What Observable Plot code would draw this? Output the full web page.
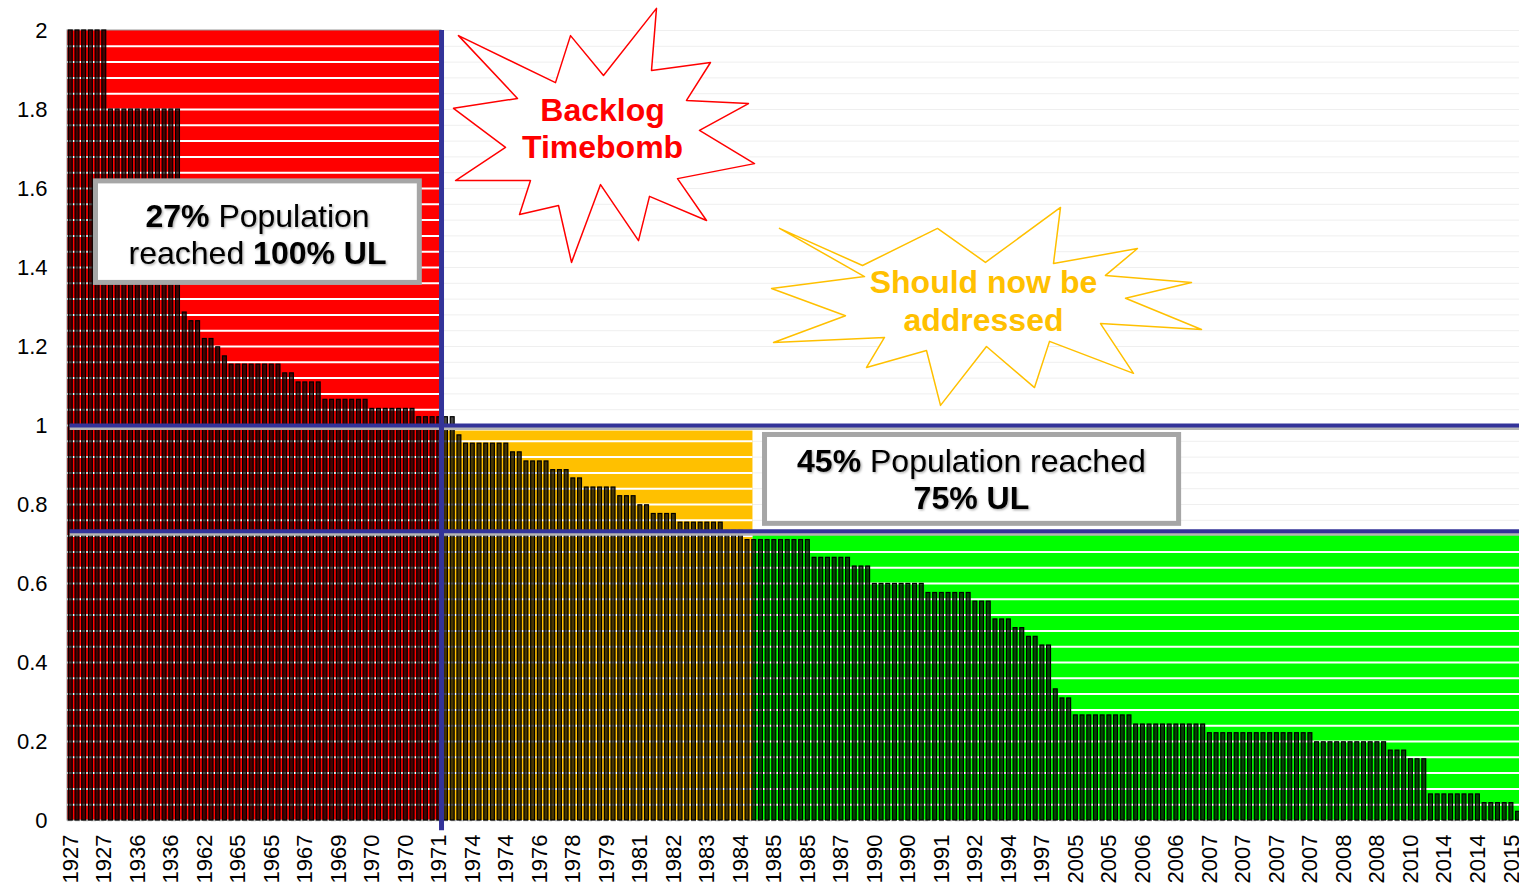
<!DOCTYPE html>
<html>
<head>
<meta charset="utf-8">
<script src="https://cdn.jsdelivr.net/npm/d3@7"></script>
<script src="https://cdn.jsdelivr.net/npm/@observablehq/plot@0.6"></script>
<style>
  html, body { margin: 0; padding: 0; background: #fff; }
  #chart { width: 1519px; height: 888px; overflow: hidden; }
</style>
</head>
<body>
<div id="chart"></div>
<script>
// ---- Data: one value per asset (ratio of age to useful life), sorted by install year ----
const values = [
  2.0, 2.0, 2.0, 2.0, 2.0, 2.0,
  1.8, 1.8, 1.8, 1.8, 1.8, 1.8, 1.8, 1.8, 1.8, 1.8, 1.8,
  1.286,
  1.264, 1.264,
  1.219, 1.219,
  1.198,
  1.175,
  1.154, 1.154, 1.154, 1.154, 1.154, 1.154, 1.154, 1.154,
  1.132, 1.132,
  1.109, 1.109, 1.109, 1.109,
  1.065, 1.065, 1.065, 1.065, 1.065, 1.065, 1.065,
  1.042, 1.042, 1.042, 1.042, 1.042, 1.042, 1.042,
  1.021, 1.021, 1.021, 1.021, 1.021, 1.021,
  0.975,
  0.954, 0.954, 0.954, 0.954, 0.954, 0.954, 0.954,
  0.932, 0.932,
  0.909, 0.909, 0.909, 0.909,
  0.887, 0.887, 0.887,
  0.866, 0.866,
  0.843, 0.843, 0.843, 0.843, 0.843,
  0.821, 0.821, 0.821,
  0.798, 0.798,
  0.776, 0.776, 0.776, 0.776,
  0.754, 0.754, 0.754, 0.754, 0.754, 0.754, 0.754,
  0.733, 0.733, 0.733,
  0.710, 0.710, 0.710, 0.710, 0.710, 0.710, 0.710, 0.710, 0.710, 0.710,
  0.665, 0.665, 0.665, 0.665, 0.665, 0.665,
  0.643, 0.643, 0.643,
  0.599, 0.599, 0.599, 0.599, 0.599, 0.599, 0.599, 0.599,
  0.576, 0.576, 0.576, 0.576, 0.576, 0.576, 0.576,
  0.554, 0.554, 0.554,
  0.509, 0.509, 0.509,
  0.487, 0.487,
  0.465, 0.465,
  0.443, 0.443,
  0.332,
  0.309, 0.309,
  0.266, 0.266, 0.266, 0.266, 0.266, 0.266, 0.266, 0.266, 0.266,
  0.243, 0.243, 0.243, 0.243, 0.243, 0.243, 0.243, 0.243, 0.243, 0.243, 0.243,
  0.221, 0.221, 0.221, 0.221, 0.221, 0.221, 0.221, 0.221, 0.221, 0.221, 0.221, 0.221, 0.221, 0.221, 0.221, 0.221,
  0.198, 0.198, 0.198, 0.198, 0.198, 0.198, 0.198, 0.198, 0.198, 0.198, 0.198,
  0.177, 0.177, 0.177,
  0.155, 0.155, 0.155,
  0.066, 0.066, 0.066, 0.066, 0.066, 0.066, 0.066, 0.066,
  0.044, 0.044, 0.044, 0.044, 0.044,
  0.022
];

// Category labels shown on the axis (every 5th bar)
const tickLabels = [
  "1927", "1927", "1936", "1936", "1962", "1965", "1965", "1967", "1969", "1970",
  "1970", "1971", "1974", "1974", "1976", "1978", "1979", "1981", "1982", "1983",
  "1984", "1985", "1985", "1987", "1990", "1990", "1991", "1992", "1994", "1997",
  "2005", "2005", "2006", "2006", "2007", "2007", "2007", "2007", "2008", "2008",
  "2010", "2014", "2014", "2015"
];
const labelEvery = 5;

// Thresholds
const thresholdFull = 1.0;     // 100% UL
const thresholdPart = 0.732;   // 75% UL line

// Annotation text
const box1Lines = ["**27%** Population", "reached **100% UL**"];
const box2Lines = ["**45%** Population reached", "**75% UL**"];
const star1Lines = ["Backlog", "Timebomb"];
const star2Lines = ["Should now be", "addressed"];

// ---- Annotation geometry (in data units: x = bar index, y = value) ----
const splitRed = 55.82;     // red / amber boundary (vertical blue line)
const splitAmber = 102.3;   // amber / green boundary
const regions = [
  {x1: 0, x2: splitRed, top: 2.0, color: "#ff0000"},
  {x1: splitRed, x2: splitAmber, top: 0.986, color: "#ffc000"},
  {x1: splitAmber, x2: 219, top: 0.722, color: "#00ff00"}
];
const boxes = [
  {x1: 4.25, x2: 52.58, y1: 1.361, y2: 1.618},
  {x1: 104.1, x2: 165.9, y1: 0.751, y2: 0.976}
];
const star1 = [
  [58.35,1.987],[72.83,1.868],[75.07,1.987],[79.99,1.886],[87.90,2.056],[87.16,1.899],
  [95.96,1.919],[92.38,1.823],[101.63,1.815],[94.32,1.747],[102.53,1.663],[91.04,1.625],
  [95.37,1.519],[86.86,1.580],[85.22,1.468],[79.55,1.610],[75.22,1.413],[73.28,1.557],
  [67.46,1.534],[69.10,1.620],[57.91,1.620],[65.37,1.704],[57.61,1.803],[67.16,1.828]
];
const star2 = [
  [106.26,1.499],[118.65,1.405],[129.84,1.499],[137.00,1.413],[148.20,1.552],[147.15,1.410],
  [159.69,1.448],[154.91,1.380],[167.75,1.362],[157.90,1.322],[169.24,1.243],[154.17,1.258],
  [159.09,1.132],[146.56,1.213],[144.32,1.096],[137.15,1.200],[130.29,1.051],[128.20,1.190],
  [119.25,1.147],[121.93,1.223],[105.37,1.210],[116.11,1.278],[105.07,1.347],[118.95,1.377]
];

// ---- Build ----
const bars = values.map((v, i) => ({i, v}));
const n = values.length;
const step = 0.04;
const gridAll = d3.range(1, 51).map(k => k * step);
const stripes = regions.flatMap(r =>
  d3.range(1, Math.floor((r.top - 0.005) / step) + 1).map(k => ({y: k * step, x1: r.x1, x2: r.x2}))
);
const tickPos = tickLabels.map((_, k) => k * labelEvery + 0.5);

const navy = "#333399";

const plot = Plot.plot({
  width: 1519,
  height: 888,
  marginLeft: 67,
  marginRight: 0,
  marginTop: 30,
  marginBottom: 68,
  style: {background: "#fff", fontFamily: "'Liberation Sans', Arial, sans-serif", fontSize: "22px", color: "#000", overflow: "visible"},
  x: {
    type: "linear",
    domain: [0, n],
    range: [67, 67 + n * 6.7005],
    ticks: tickPos,
    tickFormat: d => tickLabels[Math.round((d - 0.5) / labelEvery)],
    tickRotate: -90,
    tickSize: 0,
    tickPadding: 14,
    label: null
  },
  y: {
    domain: [0, 2],
    ticks: d3.range(0, 11).map(k => k * 0.2),
    tickFormat: d => String(+d.toFixed(2)),
    tickSize: 0,
    tickPadding: 20,
    label: null
  },
  marks: [
    Plot.ruleY(gridAll, {stroke: "#efefef", strokeWidth: 1}),
    ...regions.map((r, k) => Plot.rect([r], {x1: "x1", x2: "x2", y1: 0, y2: "top", fill: r.color, stroke: k === 0 ? "#9a9a9a" : "none", strokeWidth: 1})),
    Plot.ruleY(stripes, {y: "y", x1: "x1", x2: "x2", stroke: "#ffffff", strokeWidth: 2}),
    Plot.ruleY([0], {stroke: "#bdbdbd", strokeDasharray: "5,3", strokeWidth: 1.5}),
    Plot.rect(bars, {x1: d => d.i + 0.2, x2: d => d.i + 0.78, y1: 0, y2: "v", fill: "#000", fillOpacity: 0.72, stroke: "#000", strokeWidth: 1.2}),
    // threshold lines (with soft shadow)
    Plot.ruleY([thresholdFull, thresholdPart], {x1: 0.4, x2: n + 2, stroke: "#b5b5b5", strokeWidth: 3, dy: 3}),
    Plot.ruleY([thresholdFull, thresholdPart], {x1: 0.4, x2: n + 2, stroke: navy, strokeWidth: 4}),
    Plot.ruleX([splitRed], {y1: -0.026, y2: 2, stroke: navy, strokeWidth: 5}),
    // callout boxes
    Plot.rect(boxes, {x1: "x1", x2: "x2", y1: "y1", y2: "y2", fill: "#fff", stroke: "#a6a6a6", strokeWidth: 5}),
    Plot.text(box1Lines, {x: 28.36, y: (d, k) => [1.529, 1.435][k], text: d => d, fontSize: 32, fill: "#000"}),
    Plot.text(box2Lines, {x: 134.9, y: (d, k) => [0.909, 0.815][k], text: d => d, fontSize: 32, fill: "#000"}),
    // starbursts
    Plot.line(star1, {x: "0", y: "1", curve: "linear-closed", stroke: "#ff0000", strokeWidth: 1.5, fill: "#fff"}),
    Plot.line(star2, {x: "0", y: "1", curve: "linear-closed", stroke: "#ffc000", strokeWidth: 1.5, fill: "#fff"}),
    Plot.text(star1Lines, {x: 79.85, y: (d, k) => [1.797, 1.704][k], text: d => d, fontSize: 32, fontWeight: "bold", fill: "#ff0000"}),
    Plot.text(star2Lines, {x: 136.7, y: (d, k) => [1.362, 1.266][k], text: d => d, fontSize: 32, fontWeight: "bold", fill: "#ffc000"})
  ]
});

// Rich text: split **bold** segments into tspans
const svgNS = "http://www.w3.org/2000/svg";
const svgEl = plot.tagName.toLowerCase() === "svg" ? plot : plot.querySelector("svg");
const defs = document.createElementNS(svgNS, "defs");
defs.innerHTML = '<filter id="tshadow" x="-5%" y="-20%" width="110%" height="140%"><feDropShadow dx="1.2" dy="1.2" stdDeviation="0.8" flood-color="#000" flood-opacity="0.35"/></filter>';
svgEl.insertBefore(defs, svgEl.firstChild);
plot.querySelectorAll("text, tspan").forEach(t => {
  if (t.childNodes.length !== 1 || t.firstChild.nodeType !== 3) return;
  const s = t.textContent;
  if (!s.includes("**")) return;
  t.textContent = "";
  s.split(/(\*\*[^*]+\*\*)/).filter(Boolean).forEach(part => {
    const ts = document.createElementNS(svgNS, "tspan");
    if (part.startsWith("**")) { ts.setAttribute("font-weight", "bold"); ts.textContent = part.slice(2, -2); }
    else ts.textContent = part;
    t.appendChild(ts);
  });
  t.setAttribute("filter", "url(#tshadow)");
  t.setAttribute("xml:space", "preserve");
});

document.getElementById("chart").appendChild(plot);
</script>
</body>
</html>
